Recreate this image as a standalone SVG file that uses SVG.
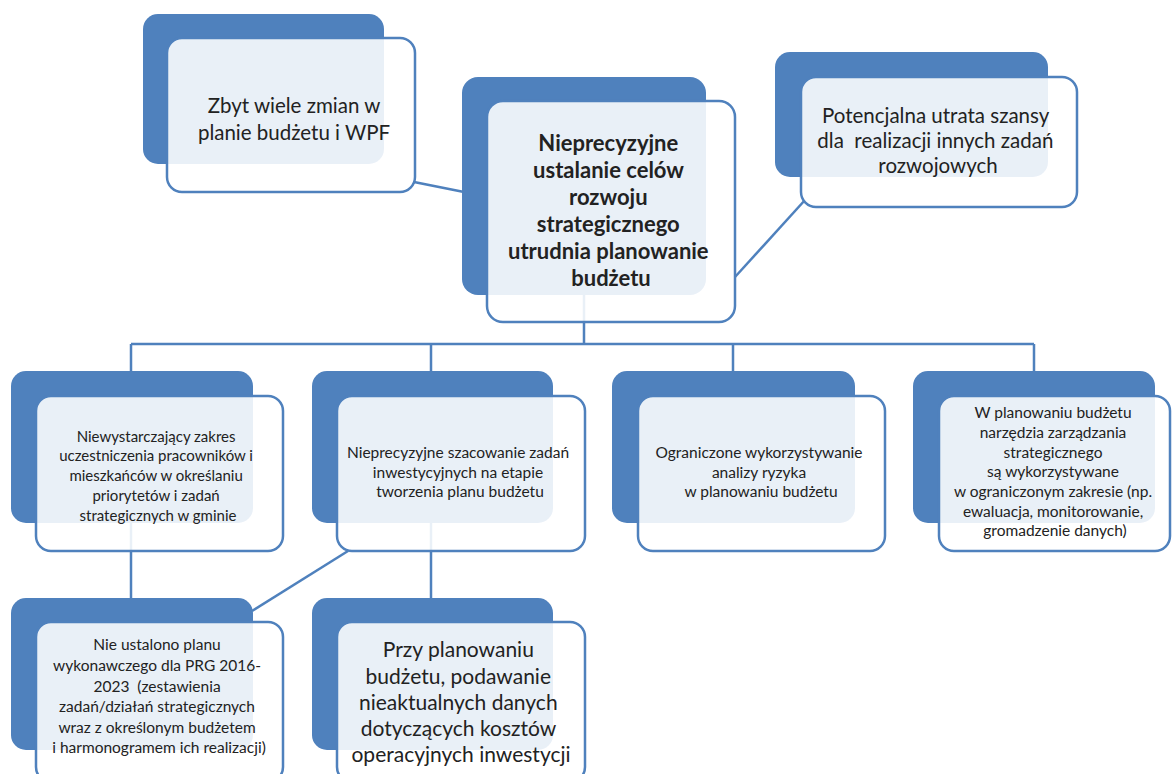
<svg xmlns="http://www.w3.org/2000/svg" width="1175" height="774" viewBox="0 0 1175 774">
  <style>
    .dk { fill: #4f81bd; }
    .fr { fill: #ffffff; fill-opacity: 0.88; stroke: #4f81bd; stroke-width: 2.5; }
    .conn { fill: none; stroke: #4f81bd; stroke-width: 2.5; }
    text { font-family: Lato, "Open Sans", sans-serif; fill: #222222; text-anchor: middle; }
    .pre { white-space: pre; }
    .s { font-size: 15.5px; }
    .s1 { font-size: 15px; }
    .m { font-size: 20.5px; }
    .l { font-size: 20.5px; }
    .xl { font-size: 21px; }
    .b { font-size: 22px; font-weight: bold; }
  </style>
  <rect width="1175" height="774" fill="#ffffff"/>

  <!-- connectors -->
  <g id="connectors">
    <path class="conn" d="M414,182 L464,192"/>
    <path class="conn" d="M735,277 L805,200"/>
    <path class="conn" d="M584,295 V344 M131,344 H1034 M131,344 V372 M431,344 V372 M733,344 V372 M1034,344 V372"/>
    <path class="conn" d="M131,523 V600"/>
    <path class="conn" d="M431,523 V600"/>
    <path class="conn" d="M348,551 L252,611"/>
  </g>

  <!-- top left -->
  <g id="node-zmiany">
    <rect class="dk" x="143" y="14" width="241" height="150" rx="15"/>
    <rect class="fr" x="167" y="38" width="248" height="154" rx="15"/>
    <text class="l"><tspan x="294" y="113">Zbyt wiele zmian w</tspan><tspan x="294" y="140">planie budżetu i WPF</tspan></text>
  </g>

  <!-- center -->
  <g id="node-glowny">
    <rect class="dk" x="462" y="77" width="244" height="218" rx="16"/>
    <rect class="fr" x="487" y="101" width="248" height="221" rx="16"/>
    <text class="b">
      <tspan x="611" y="151">Nieprecyzyjne</tspan>
      <tspan x="611" y="178">ustalanie celów</tspan>
      <tspan x="611" y="205">rozwoju</tspan>
      <tspan x="611" y="232">strategicznego</tspan>
      <tspan x="611" y="259">utrudnia planowanie</tspan>
      <tspan x="611" y="286">budżetu</tspan>
    </text>
  </g>

  <!-- top right -->
  <g id="node-szansa">
    <rect class="dk" x="775" y="52" width="273" height="125" rx="15"/>
    <rect class="fr" x="801" y="77" width="276" height="130" rx="15"/>
    <text class="m">
      <tspan x="938" y="123">Potencjalna utrata szansy</tspan>
      <tspan class="pre" x="938" y="148">dla  realizacji innych zadań</tspan>
      <tspan x="938" y="173">rozwojowych</tspan>
    </text>
  </g>

  <!-- second level -->
  <g id="node-uczestnictwo">
    <rect class="dk" x="11" y="371" width="242" height="152" rx="15"/>
    <rect class="fr" x="36" y="396" width="247" height="155" rx="15"/>
    <text class="s1">
      <tspan x="158" y="442">Niewystarczający zakres</tspan>
      <tspan x="158" y="461">uczestniczenia pracowników i</tspan>
      <tspan x="158" y="481">mieszkańców w określaniu</tspan>
      <tspan x="158" y="501">priorytetów i zadań</tspan>
      <tspan x="158" y="521">strategicznych w gminie</tspan>
    </text>
  </g>

  <g id="node-szacowanie">
    <rect class="dk" x="312" y="371" width="241" height="152" rx="15"/>
    <rect class="fr" x="337" y="396" width="248" height="155" rx="15"/>
    <text class="s">
      <tspan x="460" y="458">Nieprecyzyjne szacowanie zadań</tspan>
      <tspan x="460" y="478">inwestycyjnych na etapie</tspan>
      <tspan x="460" y="497">tworzenia planu budżetu</tspan>
    </text>
  </g>

  <g id="node-ryzyko">
    <rect class="dk" x="612" y="371" width="243" height="152" rx="15"/>
    <rect class="fr" x="638" y="396" width="247" height="155" rx="15"/>
    <text class="s">
      <tspan x="761" y="458">Ograniczone wykorzystywanie</tspan>
      <tspan x="761" y="478">analizy ryzyka</tspan>
      <tspan x="761" y="497">w planowaniu budżetu</tspan>
    </text>
  </g>

  <g id="node-narzedzia">
    <rect class="dk" x="913" y="371" width="242" height="152" rx="15"/>
    <rect class="fr" x="939" y="396" width="231" height="155" rx="15"/>
    <text class="s">
      <tspan x="1055" y="418">W planowaniu budżetu</tspan>
      <tspan x="1055" y="438">narzędzia zarządzania</tspan>
      <tspan x="1055" y="458">strategicznego</tspan>
      <tspan x="1055" y="477">są wykorzystywane</tspan>
      <tspan x="1055" y="497">w ograniczonym zakresie (np.</tspan>
      <tspan x="1055" y="517">ewaluacja, monitorowanie,</tspan>
      <tspan x="1055" y="536">gromadzenie danych)</tspan>
    </text>
  </g>

  <!-- third level -->
  <g id="node-plan-wykonawczy">
    <rect class="dk" x="11" y="598" width="242" height="152" rx="15"/>
    <rect class="fr" x="36" y="622" width="247" height="160" rx="15"/>
    <text class="s">
      <tspan x="159" y="650">Nie ustalono planu</tspan>
      <tspan x="159" y="671">wykonawczego dla PRG 2016-</tspan>
      <tspan class="pre" x="159" y="692">2023  (zestawienia</tspan>
      <tspan x="159" y="712">zadań/działań strategicznych</tspan>
      <tspan x="159" y="733">wraz z określonym budżetem</tspan>
      <tspan x="159" y="753">i harmonogramem ich realizacji)</tspan>
    </text>
  </g>

  <g id="node-koszty">
    <rect class="dk" x="312" y="598" width="241" height="152" rx="15"/>
    <rect class="fr" x="337" y="622" width="248" height="160" rx="15"/>
    <text class="xl">
      <tspan x="461" y="657">Przy planowaniu</tspan>
      <tspan x="461" y="684">budżetu, podawanie</tspan>
      <tspan x="461" y="710">nieaktualnych danych</tspan>
      <tspan x="461" y="736">dotyczących kosztów</tspan>
      <tspan x="461" y="762">operacyjnych inwestycji</tspan>
    </text>
  </g>
</svg>
